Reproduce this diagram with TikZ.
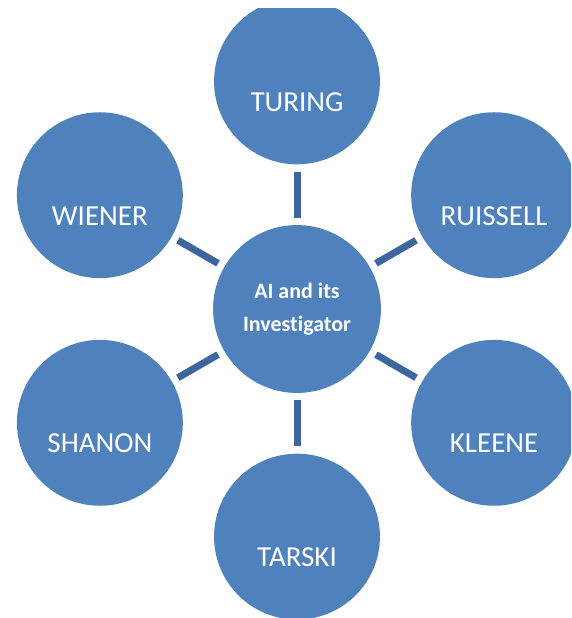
\documentclass[tikz,border=0pt]{standalone}
\usepackage{fontspec}
\setmainfont{Carlito}[Ligatures=NoCommon]
\definecolor{aiblue}{RGB}{79,129,189}
\definecolor{linkblue}{RGB}{62,102,158}
\begin{document}
\begin{tikzpicture}[
		man/.style={circle,fill=aiblue,minimum size=5.83cm,inner sep=0pt,text=white,
			font=\fontsize{29}{35}\selectfont,text height=60pt,text depth=0pt},
		hub/.style={circle,fill=aiblue,minimum size=5.9cm,inner sep=0pt,text=white,
			align=center,font=\bfseries\fontsize{22}{33}\selectfont},
		link/.style={draw=linkblue,line width=7pt,shorten >=7pt,shorten <=7pt}]
		\useasboundingbox (-297pt,-309pt) rectangle (274pt,309pt);
		\clip (-297pt,-309pt) rectangle (274pt,300pt);

		\node[hub] (ai) at (0,0) {AI and its\\Investigator};

		\node[man] (turing) at (90:8) {TURING};
		\node[man] (ruissell) at (30:8) {RUISSELL};
		\node[man] (kleene) at (-30:8) {KLEENE};
		\node[man] (tarski) at (-90:8) {TARSKI};
		\node[man] (shanon) at (210:8) {SHANON};
		\node[man] (wiener) at (150:8) {WIENER};

		\draw[link] (ai) -- (turing);
		\draw[link] (ai) -- (ruissell);
		\draw[link] (ai) -- (kleene);
		\draw[link] (ai) -- (tarski);
		\draw[link] (ai) -- (shanon);
		\draw[link] (ai) -- (wiener);
	\end{tikzpicture}
\end{document}
